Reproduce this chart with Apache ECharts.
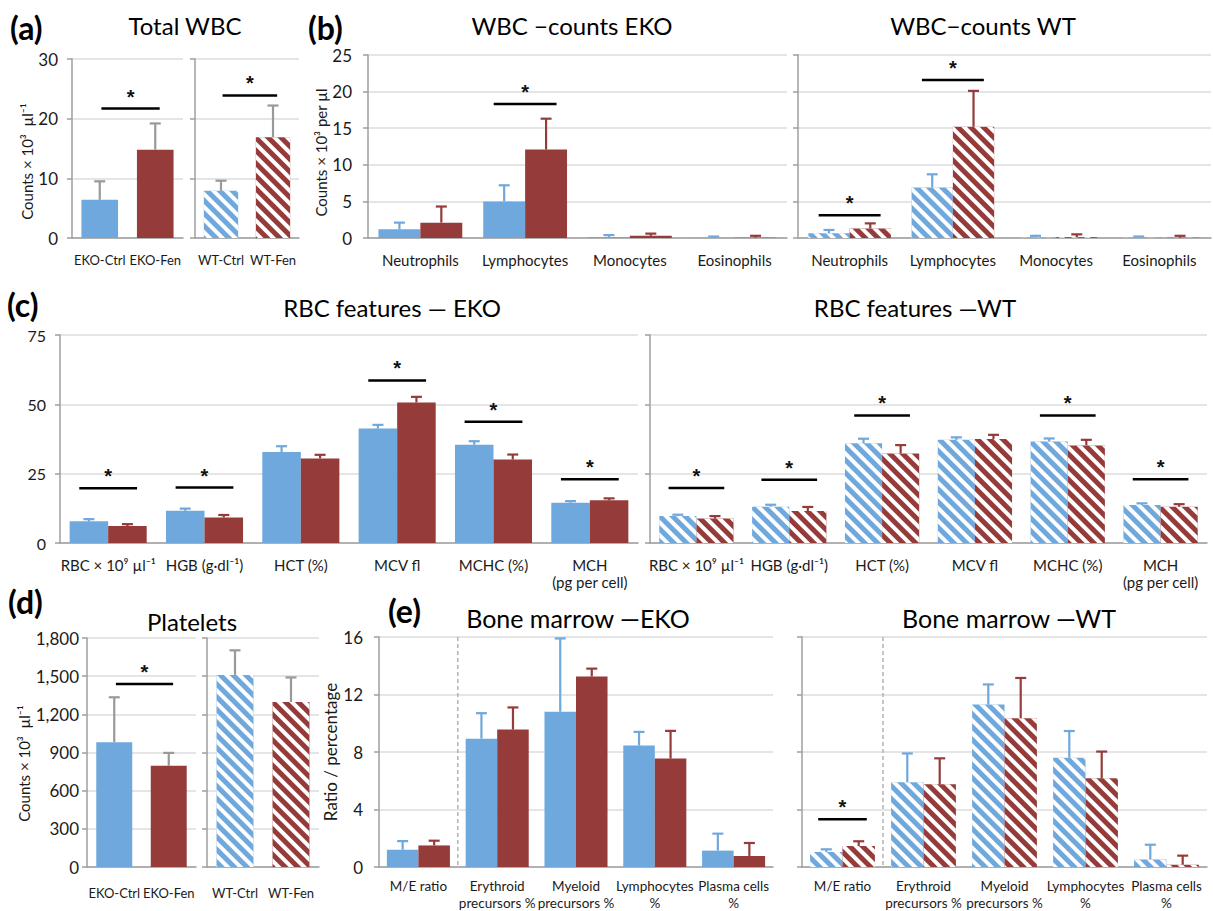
<!DOCTYPE html>
<html><head><meta charset="utf-8">
<script src="https://cdn.jsdelivr.net/npm/echarts@6/dist/echarts.min.js"></script>
<style>html,body{margin:0;padding:0;background:#fff}#c{width:1213px;height:911px}</style>
</head><body><div id="c"></div>
<script>
// ================= DATA =================
// (a) Total WBC (x10^3 per µl); error = top of SD bar
const groupCats = ['EKO-Ctrl', 'EKO-Fen', 'WT-Ctrl', 'WT-Fen'];
const wbcTotal = [6.4, 14.8, 7.9, 16.9];
const wbcTotalErr = [9.5, 19.2, 9.6, 22.2];
const wbcTotalSig = [21.7, 23.9];              // EKO, WT

// (b) WBC counts
const wbcCats = ['Neutrophils', 'Lymphocytes', 'Monocytes', 'Eosinophils'];
const wbcEkoCtrl = [1.2, 5.0, 0.15, 0.05];
const wbcEkoCtrlErr = [2.1, 7.2, 0.4, 0.2];
const wbcEkoFen = [2.1, 12.1, 0.3, 0.05];
const wbcEkoFenErr = [4.3, 16.3, 0.6, 0.3];
const wbcWtCtrl = [0.65, 6.9, 0.05, 0.03];
const wbcWtCtrlErr = [1.1, 8.7, 0.3, 0.2];
const wbcWtFen = [1.3, 15.2, 0.1, 0.05];
const wbcWtFenErr = [2.0, 20.1, 0.5, 0.3];
const wbcEkoSig = [[1, 18.3]];
const wbcWtSig = [[0, 3.1], [1, 21.6]];

// (c) RBC features
const rbcCats = ['RBC × 10⁹ µl⁻¹', 'HGB (g·dl⁻¹)', 'HCT (%)', 'MCV fl', 'MCHC (%)', 'MCH\n(pg per cell)'];
const rbcEkoCtrl = [7.8, 11.6, 32.8, 41.3, 35.4, 14.5];
const rbcEkoCtrlErr = [8.6, 12.4, 34.9, 42.6, 36.7, 15.1];
const rbcEkoFen = [6.1, 9.2, 30.5, 50.7, 30.1, 15.4];
const rbcEkoFenErr = [6.8, 10.1, 31.8, 52.7, 31.9, 16.1];
const rbcWtCtrl = [9.7, 13.1, 36.0, 37.2, 36.6, 13.7];
const rbcWtCtrlErr = [10.2, 13.8, 37.6, 38.1, 37.7, 14.3];
const rbcWtFen = [8.8, 11.5, 32.3, 37.5, 35.2, 13.1];
const rbcWtFenErr = [9.7, 13.0, 35.3, 39.0, 37.2, 14.0];
const rbcEkoSig = [[0, 19.7], [1, 20.0], [3, 58.6], [4, 43.7], [5, 23.0]];
const rbcWtSig = [[0, 19.8], [1, 22.8], [2, 46.0], [4, 46.0], [5, 23.0]];

// (d) Platelets
const plt = [981, 795, 1510, 1297];
const pltErr = [1334, 897, 1703, 1490];
const pltSig = [1439];                          // EKO only

// (e) Bone marrow
const bmCats = ['M/E ratio', 'Erythroid\nprecursors %', 'Myeloid\nprecursors %', 'Lymphocytes\n%', 'Plasma cells\n%'];
const bmEkoCtrl = [1.2, 8.93, 10.8, 8.45, 1.14];
const bmEkoCtrlErr = [1.8, 10.7, 15.9, 9.4, 2.32];
const bmEkoFen = [1.5, 9.56, 13.25, 7.54, 0.77];
const bmEkoFenErr = [1.83, 11.1, 13.8, 9.47, 1.67];
const bmWtCtrl = [1.04, 5.9, 11.3, 7.6, 0.53];
const bmWtCtrlErr = [1.23, 7.9, 12.7, 9.46, 1.55];
const bmWtFen = [1.46, 5.75, 10.35, 6.17, 0.16];
const bmWtFenErr = [1.79, 7.56, 13.15, 8.03, 0.79];
const bmEkoSig = [];
const bmWtSig = [[0, 3.32]];

// ================= STYLE =================
const BLUE = '#6FA8DC', RED = '#953B39', GREY = '#999999';
const AXIS = '#9f9f9f', GRIDC = '#dcdcdc', TXT = '#1a1a1a';
const FONT = 'Lato, "Open Sans", "Noto Sans", sans-serif';
const STARFONT = '"Liberation Sans", Arial, sans-serif';
const HATCH = {symbol: 'rect', symbolSize: 1, color: '#ffffff', dashArrayX: [1, 0], dashArrayY: [3.5, 4.5], rotation: Math.PI / 4};

const grids = [], xAxes = [], yAxes = [], series = [];

function addPanel(o) {
  const gi = grids.length;
  grids.push({left: o.left, top: o.top, width: o.width, height: o.height});
  xAxes.push({
    type: 'category', gridIndex: gi, data: o.cats,
    axisLine: {lineStyle: {color: AXIS, width: 1.5}},
    axisTick: {length: 5, lineStyle: {color: AXIS, width: 1.5}},
    axisLabel: {color: TXT, fontSize: o.catSize, fontFamily: FONT, margin: o.catMargin, interval: 0, lineHeight: o.catLH || o.catSize + 2}
  });
  yAxes.push({
    type: 'value', gridIndex: gi, min: o.min, max: o.max, interval: o.interval,
    axisLine: {show: true, lineStyle: {color: AXIS, width: 1.5}},
    axisTick: {show: true, length: 5, lineStyle: {color: AXIS, width: 1.5}},
    axisLabel: {show: !!o.showLabels, color: TXT, fontSize: o.tickSize, fontFamily: FONT, margin: o.tickMargin,
      formatter: o.fmt || (v => String(v))},
    splitLine: {lineStyle: {color: GRIDC, width: 1.5}},
    name: o.name || '', nameLocation: 'middle', nameGap: o.nameGap || 0, nameRotate: 90,
    nameTextStyle: {color: TXT, fontSize: o.nameSize || 14, fontFamily: FONT, padding: o.namePad || 0}
  });
  return gi;
}

function errSeries(gi, vals, tops, off, color) {
  return {
    type: 'custom', xAxisIndex: gi, yAxisIndex: gi, silent: true, z: 4,
    data: vals.map((v, i) => [i, v, tops[i]]),
    encode: {x: 0, y: [1, 2]},
    renderItem: (params, api) => {
      const i = api.value(0);
      const p0 = api.coord([i, api.value(1)]), p1 = api.coord([i, api.value(2)]);
      const bw = api.size([1, 0])[0];
      const cx = p0[0] + off * bw;
      return {type: 'group', children: [
        {type: 'line', shape: {x1: cx, y1: p0[1], x2: cx, y2: p1[1]}, style: {stroke: color, lineWidth: 2.2}},
        {type: 'line', shape: {x1: cx - 5.5, y1: p1[1], x2: cx + 5.5, y2: p1[1]}, style: {stroke: color, lineWidth: 2.2}}
      ]};
    }
  };
}

function sigSeries(gi, pts) {
  return {
    type: 'custom', xAxisIndex: gi, yAxisIndex: gi, silent: true, z: 5,
    data: pts, encode: {x: [0, 1], y: 2},
    renderItem: (params, api) => {
      const c0 = api.value(0), c1 = api.value(1), y = api.value(2);
      const bw = api.size([1, 0])[0];
      const a = api.coord([c0, y]), b = api.coord([c1, y]);
      let x1, x2;
      if (c0 === c1) { x1 = a[0] - 0.3 * bw; x2 = a[0] + 0.3 * bw; }
      else { x1 = a[0] + 0.03 * bw; x2 = b[0] + 0.08 * bw; }
      return {type: 'group', children: [
        {type: 'line', shape: {x1: x1, y1: a[1], x2: x2, y2: a[1]}, style: {stroke: '#000', lineWidth: 2.5}},
        {type: 'text', style: {text: '*', x: (x1 + x2) / 2, y: a[1] - 12, align: 'center', verticalAlign: 'middle',
          textAlign: 'center', textVerticalAlign: 'middle', fontSize: 20, fontWeight: 'bold', fontFamily: STARFONT, fill: '#111'}}
      ]};
    }
  };
}

function sepSeries(gi) {
  return {
    type: 'custom', xAxisIndex: gi, yAxisIndex: gi, silent: true, z: 1,
    data: [[0, 0]],
    renderItem: (params, api) => {
      const p = api.coord([0, 0]);
      const bw = api.size([1, 0])[0];
      const x = p[0] + bw / 2;
      const cs = params.coordSys;
      return {type: 'line', shape: {x1: x, y1: cs.y, x2: x, y2: cs.y + cs.height},
        style: {stroke: '#b3b3b3', lineWidth: 1.5, lineDash: [4, 3]}};
    }
  };
}

function barStyle(color, hatched) {
  const s = {color: color};
  if (hatched) s.decal = HATCH;
  return s;
}

function addGrouped(gi, ctrl, ctrlErr, fen, fenErr, hatched, sig) {
  series.push({type: 'bar', xAxisIndex: gi, yAxisIndex: gi, data: ctrl, barGap: '0%', barCategoryGap: '20%',
    itemStyle: barStyle(BLUE, hatched), silent: true});
  series.push({type: 'bar', xAxisIndex: gi, yAxisIndex: gi, data: fen, barGap: '0%', barCategoryGap: '20%',
    itemStyle: barStyle(RED, hatched), silent: true});
  series.push(errSeries(gi, ctrl, ctrlErr, -0.2, BLUE));
  series.push(errSeries(gi, fen, fenErr, 0.2, RED));
  if (sig.length) series.push(sigSeries(gi, sig.map(s => [s[0], s[0], s[1]])));
}

function addPair(gi, vals, errs, hatched, sigY) {
  series.push({type: 'bar', xAxisIndex: gi, yAxisIndex: gi, barWidth: '66%', silent: true,
    data: vals.map((v, i) => ({value: v, itemStyle: barStyle(i === 0 ? BLUE : RED, hatched)}))});
  series.push(errSeries(gi, vals, errs, 0, GREY));
  if (sigY !== undefined && sigY !== null) series.push(sigSeries(gi, [[0, 1, sigY]]));
}

// ---- (a) Total WBC ----
const aCommon = {top: 59, height: 179, min: 0, max: 30, interval: 10, catSize: 13, catMargin: 14, tickSize: 17, tickMargin: 14};
let g = addPanel(Object.assign({}, aCommon, {left: 72, width: 111, cats: groupCats.slice(0, 2), showLabels: true,
  name: 'Counts × 10³  µl⁻¹', nameGap: 36, nameSize: 15, namePad: [0, 26, 0, 0]}));
addPair(g, wbcTotal.slice(0, 2), wbcTotalErr.slice(0, 2), false, wbcTotalSig[0]);
g = addPanel(Object.assign({}, aCommon, {left: 195, width: 104, cats: groupCats.slice(2, 4)}));
addPair(g, wbcTotal.slice(2, 4), wbcTotalErr.slice(2, 4), true, wbcTotalSig[1]);

// ---- (b) WBC counts ----
const bCommon = {top: 55, height: 183, min: 0, max: 25, interval: 5, cats: wbcCats, catSize: 15, catMargin: 13, tickSize: 17, tickMargin: 16};
g = addPanel(Object.assign({}, bCommon, {left: 368, width: 419, showLabels: true, name: 'Counts × 10³ per µl', nameGap: 38, nameSize: 15, namePad: [0, 12, 0, 0]}));
addGrouped(g, wbcEkoCtrl, wbcEkoCtrlErr, wbcEkoFen, wbcEkoFenErr, false, wbcEkoSig);
g = addPanel(Object.assign({}, bCommon, {left: 798, width: 413}));
addGrouped(g, wbcWtCtrl, wbcWtCtrlErr, wbcWtFen, wbcWtFenErr, true, wbcWtSig);

// ---- (c) RBC features ----
const cCommon = {top: 335, height: 208, min: 0, max: 75, interval: 25, cats: rbcCats, catSize: 15, catMargin: 13, catLH: 17, tickSize: 16, tickMargin: 14};
g = addPanel(Object.assign({}, cCommon, {left: 60, width: 578, showLabels: true}));
addGrouped(g, rbcEkoCtrl, rbcEkoCtrlErr, rbcEkoFen, rbcEkoFenErr, false, rbcEkoSig);
g = addPanel(Object.assign({}, cCommon, {left: 650, width: 557}));
addGrouped(g, rbcWtCtrl, rbcWtCtrlErr, rbcWtFen, rbcWtFenErr, true, rbcWtSig);

// ---- (d) Platelets ----
const dCommon = {top: 638, height: 229, min: 0, max: 1800, interval: 300, catSize: 13, catMargin: 18, tickSize: 17, tickMargin: 8,
  fmt: v => v.toLocaleString('en-US')};
g = addPanel(Object.assign({}, dCommon, {left: 87, width: 109, cats: groupCats.slice(0, 2), showLabels: true,
  name: 'Counts × 10³  µl⁻¹', nameGap: 55, nameSize: 15, namePad: [0, 22, 0, 0]}));
addPair(g, plt.slice(0, 2), pltErr.slice(0, 2), false, pltSig[0]);
g = addPanel(Object.assign({}, dCommon, {left: 207, width: 112, cats: groupCats.slice(2, 4)}));
addPair(g, plt.slice(2, 4), pltErr.slice(2, 4), true, null);

// ---- (e) Bone marrow ----
const eCommon = {top: 637, height: 230, min: 0, max: 16, interval: 4, cats: bmCats, catSize: 13.5, catMargin: 10, catLH: 17, tickSize: 17, tickMargin: 16};
g = addPanel(Object.assign({}, eCommon, {left: 379, width: 394, showLabels: true, name: 'Ratio / percentage', nameGap: 33, nameSize: 17}));
series.push(sepSeries(g));
addGrouped(g, bmEkoCtrl, bmEkoCtrlErr, bmEkoFen, bmEkoFenErr, false, bmEkoSig);
g = addPanel(Object.assign({}, eCommon, {left: 802, width: 405}));
series.push(sepSeries(g));
addGrouped(g, bmWtCtrl, bmWtCtrlErr, bmWtFen, bmWtFenErr, true, bmWtSig);

// ---- titles and panel letters ----
function txt(x, y, text, size, bold, align) {
  return {type: 'text', x: x, y: y, silent: true, style: {text: text, fontSize: size, fontWeight: bold ? 'bold' : 'normal',
    fontFamily: FONT, fill: '#000', align: align || 'center', textAlign: align || 'center', verticalAlign: 'middle', textVerticalAlign: 'middle'}};
}
const graphics = [
  txt(10, 27, '(a)', 32, true, 'left'),
  txt(185, 25, 'Total WBC', 24),
  txt(308, 27, '(b)', 32, true, 'left'),
  txt(572, 25, 'WBC −counts EKO', 24),
  txt(983, 25, 'WBC−counts WT', 24),
  txt(7, 304, '(c)', 32, true, 'left'),
  txt(392, 307, 'RBC features — EKO', 24),
  txt(915, 307, 'RBC features —WT', 24),
  txt(8, 601, '(d)', 32, true, 'left'),
  txt(192, 621, 'Platelets', 24),
  txt(388, 610, '(e)', 32, true, 'left'),
  txt(578, 618, 'Bone marrow —EKO', 25),
  txt(1009, 618, 'Bone marrow —WT', 25)
];

const chart = echarts.init(document.getElementById('c'), null, {renderer: 'svg', width: 1213, height: 911});
chart.setOption({
  animation: false,
  backgroundColor: '#ffffff',
  textStyle: {fontFamily: FONT},
  grid: grids, xAxis: xAxes, yAxis: yAxes, series: series, graphic: graphics
});
</script></body></html>
